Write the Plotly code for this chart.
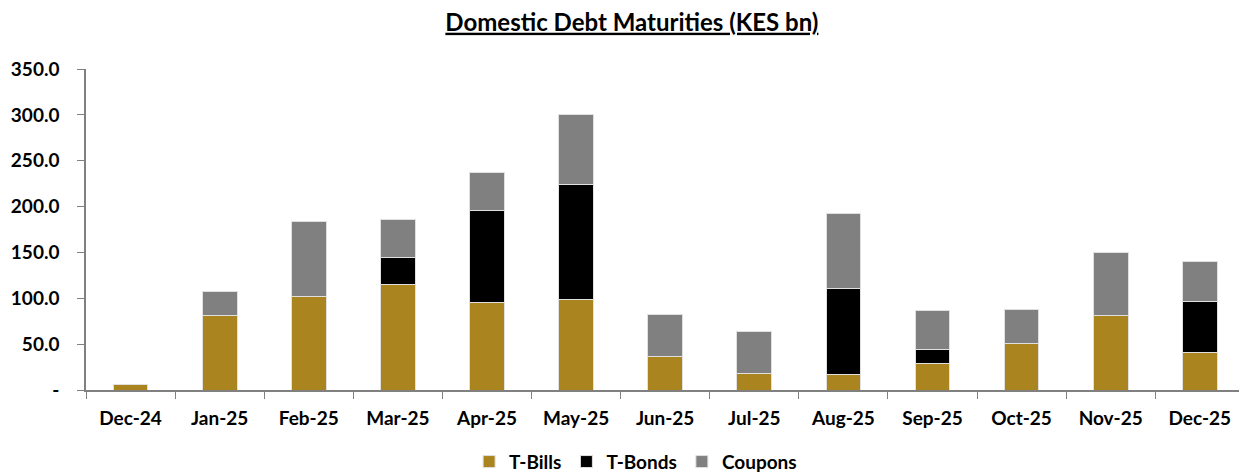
import plotly.graph_objects as go

# Monthly domestic debt maturities, KES bn
months = ["Dec-24", "Jan-25", "Feb-25", "Mar-25", "Apr-25", "May-25", "Jun-25",
          "Jul-25", "Aug-25", "Sep-25", "Oct-25", "Nov-25", "Dec-25"]
t_bills = [6.0, 81.0, 101.8, 114.8, 95.6, 99.2, 36.0, 17.8, 16.7, 29.4, 50.5, 81.0, 41.4]
t_bonds = [0.0, 0.0, 0.0, 29.2, 99.6, 124.7, 0.0, 0.0, 94.2, 15.3, 0.0, 0.0, 54.9]
coupons = [0.0, 26.2, 81.7, 42.1, 42.5, 76.7, 46.5, 46.2, 81.8, 41.5, 37.1, 68.4, 44.0]

y_tick_vals = [0, 50, 100, 150, 200, 250, 300, 350]
y_tick_text = ["-", "50.0", "100.0", "150.0", "200.0", "250.0", "300.0", "350.0"]

FONT = "Lato"
edge = dict(color="#e0e0e0", width=1)

fig = go.Figure()
fig.add_trace(go.Bar(name="T-Bills", x=months, y=t_bills,
                     marker=dict(color="#AA841F", line=edge)))
fig.add_trace(go.Bar(name="T-Bonds", x=months, y=t_bonds,
                     marker=dict(color="#000000", line=edge)))
fig.add_trace(go.Bar(name="Coupons", x=months, y=coupons,
                     marker=dict(color="#808080", line=edge)))

fig.update_layout(
    width=1239, height=475,
    barmode="stack", bargap=0.61,
    plot_bgcolor="white", paper_bgcolor="white",
    margin=dict(l=86, r=0, t=69, b=85, autoexpand=False),
    font=dict(family=FONT, color="black"),
    title=dict(text="<b><u>Domestic Debt Maturities (KES bn)</u></b>",
               x=0.51, xanchor="center", y=0.953, yanchor="middle",
               font=dict(family=FONT, size=24, color="black")),
    legend=dict(orientation="h", traceorder="normal",
                x=0.513, xanchor="center", xref="container",
                y=0.028, yanchor="middle", yref="container",
                font=dict(family=FONT, size=19, color="black", weight="bold"),
                itemwidth=30, bgcolor="rgba(0,0,0,0)"),
    showlegend=True,
)

fig.update_xaxes(
    type="category", range=[-0.5, 12.44],
    showline=True, linecolor="#808080", linewidth=1.5,
    ticks="outside", tickson="boundaries", ticklen=7, tickcolor="#808080",
    ticklabelstandoff=10,
    tickfont=dict(family=FONT, size=19, color="black", weight="bold"),
    showgrid=False, zeroline=False,
)
fig.update_yaxes(
    range=[0, 350], tickvals=y_tick_vals, ticktext=y_tick_text,
    showline=True, linecolor="#808080", linewidth=1.5,
    ticks="outside", ticklen=7, tickcolor="#808080",
    ticklabelstandoff=14,
    tickfont=dict(family=FONT, size=19, color="black", weight="bold"),
    showgrid=False, zeroline=False,
)

fig.write_html("out.html")
